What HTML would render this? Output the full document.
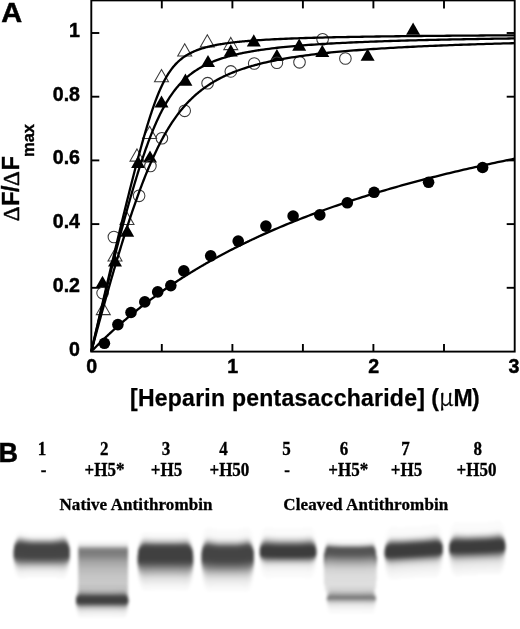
<!DOCTYPE html>
<html><head><meta charset="utf-8"><style>
html,body{margin:0;padding:0;background:#fff;}
body{width:520px;height:629px;overflow:hidden;}
svg{display:block;}
.sans{font-family:"Liberation Sans",Arial,sans-serif;font-weight:bold;}
.serif{font-family:"Liberation Serif","Times New Roman",serif;font-weight:bold;}
</style></head><body>
<svg width="520" height="629" viewBox="0 0 520 629">
<rect width="520" height="629" fill="#fff"/>
<g class="sans" font-size="27.6" stroke="#000" stroke-width="0.5"><text transform="translate(1.3,22.0) scale(1.05,1)">A</text></g>
<g class="sans" font-size="19.6" fill="#000" stroke="#000" stroke-width="0.45">
<text x="80" y="355.5" text-anchor="end">0</text>
<text x="80" y="291.8" text-anchor="end">0.2</text>
<text x="80" y="228.1" text-anchor="end">0.4</text>
<text x="80" y="164.4" text-anchor="end">0.6</text>
<text x="80" y="100.7" text-anchor="end">0.8</text>
<text x="80" y="37.0" text-anchor="end">1</text>
<text x="91.7" y="372.6" text-anchor="middle">0</text>
<text x="232.8" y="372.6" text-anchor="middle">1</text>
<text x="373.8" y="372.6" text-anchor="middle">2</text>
<text x="513.9" y="372.6" text-anchor="middle">3</text>
</g>
<text class="sans" transform="rotate(-90)" font-size="23" stroke="#000" stroke-width="0.4" y="19.2" text-anchor="middle"><tspan x="-213.8" font-family="Liberation Serif" font-weight="normal" stroke-width="0.5">Δ</tspan><tspan x="-198.6">F</tspan><tspan x="-188.9">/</tspan><tspan x="-178.5" font-family="Liberation Serif" font-weight="normal" stroke-width="0.5">Δ</tspan><tspan x="-163.3">F</tspan><tspan x="-157" y="33.6" font-size="16.5" text-anchor="start">max</tspan></text>
<text class="sans" font-size="23" y="405.6" stroke="#000" stroke-width="0.25"><tspan x="130" letter-spacing="0.25">[Heparin pentasaccharide] </tspan><tspan x="431.3">(</tspan><tspan x="438.8" font-family="Noto Serif CJK SC" font-weight="normal" font-size="24" stroke-width="0.3">μ</tspan><tspan x="453.4">M</tspan><tspan x="472">)</tspan></text>
<polygon points="103.3,302.4 110.3,314.6 96.3,314.6" fill="none" stroke="#3a3a3a" stroke-width="1.05"/>
<polygon points="115.0,248.7 122.0,260.9 108.0,260.9" fill="none" stroke="#3a3a3a" stroke-width="1.05"/>
<polygon points="127.0,212.2 134.0,224.4 120.0,224.4" fill="none" stroke="#3a3a3a" stroke-width="1.05"/>
<polygon points="137.0,148.9 144.0,161.1 130.0,161.1" fill="none" stroke="#3a3a3a" stroke-width="1.05"/>
<polygon points="149.6,126.2 156.6,138.4 142.6,138.4" fill="none" stroke="#3a3a3a" stroke-width="1.05"/>
<polygon points="161.5,69.5 168.5,81.7 154.5,81.7" fill="none" stroke="#3a3a3a" stroke-width="1.05"/>
<polygon points="184.7,43.8 191.7,56.0 177.7,56.0" fill="none" stroke="#3a3a3a" stroke-width="1.05"/>
<polygon points="207.3,34.8 214.3,47.0 200.3,47.0" fill="none" stroke="#3a3a3a" stroke-width="1.05"/>
<polygon points="230.8,37.4 237.8,49.6 223.8,49.6" fill="none" stroke="#3a3a3a" stroke-width="1.05"/>
<polygon points="102.5,275.7 109.5,287.9 95.5,287.9" fill="#000"/>
<polygon points="115.0,254.4 122.0,266.6 108.0,266.6" fill="#000"/>
<polygon points="127.2,224.6 134.2,236.8 120.2,236.8" fill="#000"/>
<polygon points="138.1,155.7 145.1,167.9 131.1,167.9" fill="#000"/>
<polygon points="150.0,150.4 157.0,162.6 143.0,162.6" fill="#000"/>
<polygon points="161.5,95.4 168.5,107.6 154.5,107.6" fill="#000"/>
<polygon points="185.4,73.5 192.4,85.7 178.4,85.7" fill="#000"/>
<polygon points="208.0,54.9 215.0,67.1 201.0,67.1" fill="#000"/>
<polygon points="230.8,44.3 237.8,56.5 223.8,56.5" fill="#000"/>
<polygon points="253.8,34.3 260.8,46.5 246.8,46.5" fill="#000"/>
<polygon points="276.9,48.9 283.9,61.1 269.9,61.1" fill="#000"/>
<polygon points="299.2,38.5 306.2,50.7 292.2,50.7" fill="#000"/>
<polygon points="322.3,44.7 329.3,56.9 315.3,56.9" fill="#000"/>
<polygon points="367.6,48.5 374.6,60.7 360.6,60.7" fill="#000"/>
<polygon points="413.1,22.6 420.1,34.8 406.1,34.8" fill="#000"/>
<circle cx="102.6" cy="293.1" r="5.8" fill="none" stroke="#3a3a3a" stroke-width="1.05"/>
<circle cx="113.9" cy="237" r="5.8" fill="none" stroke="#3a3a3a" stroke-width="1.05"/>
<circle cx="139.1" cy="195.8" r="5.8" fill="none" stroke="#3a3a3a" stroke-width="1.05"/>
<circle cx="150.4" cy="166" r="5.8" fill="none" stroke="#3a3a3a" stroke-width="1.05"/>
<circle cx="161.9" cy="138.2" r="5.8" fill="none" stroke="#3a3a3a" stroke-width="1.05"/>
<circle cx="184.7" cy="110.8" r="5.8" fill="none" stroke="#3a3a3a" stroke-width="1.05"/>
<circle cx="207.6" cy="83.2" r="5.8" fill="none" stroke="#3a3a3a" stroke-width="1.05"/>
<circle cx="230.8" cy="71.4" r="5.8" fill="none" stroke="#3a3a3a" stroke-width="1.05"/>
<circle cx="254.2" cy="63.5" r="5.8" fill="none" stroke="#3a3a3a" stroke-width="1.05"/>
<circle cx="276.9" cy="62.7" r="5.8" fill="none" stroke="#3a3a3a" stroke-width="1.05"/>
<circle cx="299.5" cy="62.3" r="5.8" fill="none" stroke="#3a3a3a" stroke-width="1.05"/>
<circle cx="322.6" cy="39.2" r="5.8" fill="none" stroke="#3a3a3a" stroke-width="1.05"/>
<circle cx="345.4" cy="58.5" r="5.8" fill="none" stroke="#3a3a3a" stroke-width="1.05"/>
<circle cx="104.4" cy="343.3" r="5.8" fill="#000"/>
<circle cx="117.9" cy="324.6" r="5.8" fill="#000"/>
<circle cx="131" cy="312.5" r="5.8" fill="#000"/>
<circle cx="144.8" cy="301.9" r="5.8" fill="#000"/>
<circle cx="157.7" cy="291.9" r="5.8" fill="#000"/>
<circle cx="170.8" cy="285.6" r="5.8" fill="#000"/>
<circle cx="183.8" cy="270.8" r="5.8" fill="#000"/>
<circle cx="210.7" cy="255.8" r="5.8" fill="#000"/>
<circle cx="238.2" cy="241.1" r="5.8" fill="#000"/>
<circle cx="265.9" cy="226.1" r="5.8" fill="#000"/>
<circle cx="293.1" cy="216" r="5.8" fill="#000"/>
<circle cx="319.8" cy="214.9" r="5.8" fill="#000"/>
<circle cx="347.3" cy="202.8" r="5.8" fill="#000"/>
<circle cx="374.1" cy="192.3" r="5.8" fill="#000"/>
<circle cx="428.6" cy="182.3" r="5.8" fill="#000"/>
<circle cx="482.6" cy="167.5" r="5.8" fill="#000"/>
<path d="M91.30,351.50 L92.01,348.45 L92.71,345.41 L93.42,342.37 L94.12,339.33 L94.83,336.29 L95.53,333.25 L96.24,330.22 L96.94,327.18 L97.65,324.15 L98.35,321.12 L99.06,318.10 L99.76,315.07 L100.47,312.05 L101.17,309.03 L101.88,306.02 L102.59,303.00 L103.29,299.99 L104.00,296.98 L104.70,293.97 L105.41,290.97 L106.11,287.97 L106.82,284.97 L107.52,281.98 L108.23,278.99 L108.93,276.00 L109.64,273.02 L110.34,270.04 L111.05,267.06 L111.76,264.09 L112.46,261.12 L113.17,258.16 L113.87,255.20 L114.58,252.25 L115.28,249.30 L115.99,246.35 L116.69,243.41 L117.40,240.48 L118.10,237.55 L118.81,234.62 L119.51,231.71 L120.22,228.79 L120.92,225.89 L121.63,222.99 L122.34,220.10 L123.04,217.21 L123.75,214.33 L124.45,211.46 L125.16,208.60 L125.86,205.75 L126.57,202.90 L127.27,200.06 L127.98,197.24 L128.68,194.42 L129.39,191.61 L130.09,188.82 L130.80,186.03 L131.50,183.26 L132.21,180.50 L132.92,177.75 L133.62,175.01 L134.33,172.29 L135.03,169.58 L135.74,166.89 L136.44,164.21 L137.15,161.55 L137.85,158.90 L138.56,156.27 L139.26,153.67 L139.97,151.08 L140.67,148.51 L141.38,145.96 L142.09,143.43 L142.79,140.93 L143.50,138.45 L144.20,135.99 L144.91,133.57 L145.61,131.16 L146.32,128.79 L147.02,126.44 L147.73,124.13 L148.43,121.84 L149.14,119.59 L149.84,117.37 L150.55,115.19 L151.25,113.04 L151.96,110.92 L152.67,108.85 L153.37,106.81 L154.08,104.82 L154.78,102.86 L155.49,100.95 L156.19,99.07 L156.90,97.24 L157.60,95.46 L158.31,93.71 L159.01,92.01 L159.72,90.36 L160.42,88.75 L161.13,87.19 L161.83,85.67 L162.54,84.19 L163.25,82.77 L163.95,81.38 L164.66,80.04 L165.36,78.74 L166.07,77.48 L166.77,76.27 L167.48,75.10 L168.18,73.97 L168.89,72.87 L169.59,71.82 L170.30,70.80 L171.00,69.82 L171.71,68.87 L172.42,67.96 L173.12,67.09 L173.83,66.24 L174.53,65.42 L175.24,64.64 L175.94,63.88 L176.65,63.15 L177.35,62.45 L178.06,61.77 L178.76,61.12 L179.47,60.49 L180.17,59.89 L180.88,59.30 L181.58,58.74 L182.29,58.19 L183.00,57.67 L183.70,57.16 L184.41,56.67 L185.11,56.20 L185.82,55.75 L186.52,55.30 L187.23,54.88 L187.93,54.47 L188.64,54.07 L189.34,53.68 L190.05,53.31 L190.75,52.95 L191.46,52.60 L192.17,52.26 L192.87,51.94 L193.58,51.62 L194.28,51.31 L194.99,51.01 L195.69,50.72 L196.40,50.44 L197.10,50.17 L197.81,49.90 L198.51,49.64 L199.22,49.39 L199.92,49.15 L200.63,48.91 L201.33,48.68 L202.04,48.46 L202.75,48.24 L203.45,48.03 L204.16,47.82 L204.86,47.62 L205.57,47.43 L206.27,47.24 L206.98,47.05 L207.68,46.87 L208.39,46.69 L209.09,46.52 L209.80,46.35 L210.50,46.19 L211.21,46.03 L211.91,45.87 L212.62,45.72 L213.33,45.57 L214.03,45.42 L214.74,45.28 L215.44,45.14 L216.15,45.00 L216.85,44.87 L217.56,44.74 L218.26,44.61 L218.97,44.49 L219.67,44.36 L220.38,44.25 L221.08,44.13 L221.79,44.01 L222.50,43.90 L223.20,43.79 L223.91,43.68 L224.61,43.58 L225.32,43.47 L226.02,43.37 L226.73,43.27 L227.43,43.17 L228.14,43.08 L228.84,42.98 L229.55,42.89 L230.25,42.80 L230.96,42.71 L231.66,42.62 L232.37,42.54 L233.08,42.45 L233.78,42.37 L234.49,42.29 L235.19,42.21 L235.90,42.13 L236.60,42.05 L237.31,41.98 L238.01,41.90 L238.72,41.83 L239.42,41.76 L240.13,41.69 L240.83,41.62 L241.54,41.55 L242.24,41.48 L242.95,41.42 L243.66,41.35 L244.36,41.29 L245.07,41.22 L245.77,41.16 L246.48,41.10 L247.18,41.04 L247.89,40.98 L248.59,40.92 L249.30,40.86 L250.00,40.81 L250.71,40.75 L251.41,40.70 L252.12,40.64 L252.83,40.59 L253.53,40.54 L254.24,40.48 L254.94,40.43 L255.65,40.38 L256.35,40.33 L257.06,40.28 L257.76,40.23 L258.47,40.19 L259.17,40.14 L259.88,40.09 L260.58,40.05 L263.41,39.87 L266.23,39.70 L269.05,39.54 L271.87,39.39 L274.69,39.25 L277.51,39.11 L280.33,38.98 L283.16,38.85 L285.98,38.73 L288.80,38.61 L291.62,38.50 L294.44,38.40 L297.26,38.30 L300.08,38.20 L302.90,38.11 L305.73,38.02 L308.55,37.93 L311.37,37.85 L314.19,37.77 L317.01,37.69 L319.83,37.61 L322.65,37.54 L325.48,37.47 L328.30,37.40 L331.12,37.34 L333.94,37.27 L336.76,37.21 L339.58,37.15 L342.40,37.10 L345.23,37.04 L348.05,36.99 L350.87,36.93 L353.69,36.88 L356.51,36.83 L359.33,36.78 L362.15,36.74 L364.98,36.69 L367.80,36.65 L370.62,36.60 L373.44,36.56 L376.26,36.52 L379.08,36.48 L381.90,36.44 L384.73,36.40 L387.55,36.37 L390.37,36.33 L393.19,36.29 L396.01,36.26 L398.83,36.23 L401.65,36.19 L404.48,36.16 L407.30,36.13 L410.12,36.10 L412.94,36.07 L415.76,36.04 L418.58,36.01 L421.40,35.98 L424.23,35.96 L427.05,35.93 L429.87,35.90 L432.69,35.88 L435.51,35.85 L438.33,35.83 L441.15,35.80 L443.97,35.78 L446.80,35.76 L449.62,35.73 L452.44,35.71 L455.26,35.69 L458.08,35.67 L460.90,35.65 L463.72,35.63 L466.55,35.60 L469.37,35.58 L472.19,35.57 L475.01,35.55 L477.83,35.53 L480.65,35.51 L483.47,35.49 L486.30,35.47 L489.12,35.45 L491.94,35.44 L494.76,35.42 L497.58,35.40 L500.40,35.39 L503.22,35.37 L506.05,35.35 L508.87,35.34 L511.69,35.32 L514.51,35.31" fill="none" stroke="#000" stroke-width="2.3" stroke-linejoin="round"/>
<path d="M91.30,351.50 L92.01,348.54 L92.71,345.59 L93.42,342.63 L94.12,339.69 L94.83,336.75 L95.53,333.81 L96.24,330.88 L96.94,327.95 L97.65,325.02 L98.35,322.11 L99.06,319.19 L99.76,316.29 L100.47,313.38 L101.17,310.49 L101.88,307.60 L102.59,304.71 L103.29,301.83 L104.00,298.96 L104.70,296.10 L105.41,293.24 L106.11,290.38 L106.82,287.54 L107.52,284.70 L108.23,281.87 L108.93,279.04 L109.64,276.23 L110.34,273.42 L111.05,270.62 L111.76,267.83 L112.46,265.04 L113.17,262.27 L113.87,259.50 L114.58,256.75 L115.28,254.00 L115.99,251.26 L116.69,248.53 L117.40,245.82 L118.10,243.11 L118.81,240.41 L119.51,237.73 L120.22,235.06 L120.92,232.39 L121.63,229.74 L122.34,227.11 L123.04,224.48 L123.75,221.87 L124.45,219.27 L125.16,216.69 L125.86,214.12 L126.57,211.56 L127.27,209.02 L127.98,206.50 L128.68,203.98 L129.39,201.49 L130.09,199.01 L130.80,196.55 L131.50,194.11 L132.21,191.68 L132.92,189.27 L133.62,186.88 L134.33,184.51 L135.03,182.16 L135.74,179.83 L136.44,177.52 L137.15,175.22 L137.85,172.95 L138.56,170.71 L139.26,168.48 L139.97,166.27 L140.67,164.09 L141.38,161.93 L142.09,159.80 L142.79,157.69 L143.50,155.60 L144.20,153.54 L144.91,151.50 L145.61,149.49 L146.32,147.51 L147.02,145.55 L147.73,143.62 L148.43,141.71 L149.14,139.83 L149.84,137.98 L150.55,136.15 L151.25,134.36 L151.96,132.59 L152.67,130.85 L153.37,129.14 L154.08,127.45 L154.78,125.80 L155.49,124.17 L156.19,122.57 L156.90,121.00 L157.60,119.46 L158.31,117.94 L159.01,116.46 L159.72,115.00 L160.42,113.57 L161.13,112.17 L161.83,110.80 L162.54,109.45 L163.25,108.13 L163.95,106.84 L164.66,105.58 L165.36,104.34 L166.07,103.12 L166.77,101.94 L167.48,100.78 L168.18,99.64 L168.89,98.53 L169.59,97.44 L170.30,96.38 L171.00,95.34 L171.71,94.32 L172.42,93.33 L173.12,92.36 L173.83,91.41 L174.53,90.48 L175.24,89.58 L175.94,88.69 L176.65,87.82 L177.35,86.98 L178.06,86.15 L178.76,85.34 L179.47,84.55 L180.17,83.78 L180.88,83.03 L181.58,82.29 L182.29,81.57 L183.00,80.87 L183.70,80.18 L184.41,79.51 L185.11,78.85 L185.82,78.21 L186.52,77.58 L187.23,76.97 L187.93,76.37 L188.64,75.78 L189.34,75.21 L190.05,74.65 L190.75,74.10 L191.46,73.56 L192.17,73.04 L192.87,72.53 L193.58,72.02 L194.28,71.53 L194.99,71.05 L195.69,70.58 L196.40,70.12 L197.10,69.67 L197.81,69.23 L198.51,68.80 L199.22,68.37 L199.92,67.96 L200.63,67.55 L201.33,67.15 L202.04,66.77 L202.75,66.38 L203.45,66.01 L204.16,65.64 L204.86,65.28 L205.57,64.93 L206.27,64.59 L206.98,64.25 L207.68,63.92 L208.39,63.59 L209.09,63.27 L209.80,62.96 L210.50,62.65 L211.21,62.35 L211.91,62.05 L212.62,61.76 L213.33,61.47 L214.03,61.19 L214.74,60.92 L215.44,60.65 L216.15,60.38 L216.85,60.12 L217.56,59.87 L218.26,59.62 L218.97,59.37 L219.67,59.13 L220.38,58.89 L221.08,58.65 L221.79,58.42 L222.50,58.20 L223.20,57.97 L223.91,57.75 L224.61,57.54 L225.32,57.33 L226.02,57.12 L226.73,56.91 L227.43,56.71 L228.14,56.51 L228.84,56.32 L229.55,56.12 L230.25,55.93 L230.96,55.75 L231.66,55.56 L232.37,55.38 L233.08,55.21 L233.78,55.03 L234.49,54.86 L235.19,54.69 L235.90,54.52 L236.60,54.36 L237.31,54.19 L238.01,54.03 L238.72,53.88 L239.42,53.72 L240.13,53.57 L240.83,53.42 L241.54,53.27 L242.24,53.12 L242.95,52.98 L243.66,52.83 L244.36,52.69 L245.07,52.55 L245.77,52.42 L246.48,52.28 L247.18,52.15 L247.89,52.02 L248.59,51.89 L249.30,51.76 L250.00,51.63 L250.71,51.51 L251.41,51.39 L252.12,51.27 L252.83,51.15 L253.53,51.03 L254.24,50.91 L254.94,50.80 L255.65,50.68 L256.35,50.57 L257.06,50.46 L257.76,50.35 L258.47,50.24 L259.17,50.13 L259.88,50.03 L260.58,49.92 L263.41,49.52 L266.23,49.13 L269.05,48.77 L271.87,48.41 L274.69,48.08 L277.51,47.76 L280.33,47.45 L283.16,47.15 L285.98,46.87 L288.80,46.60 L291.62,46.34 L294.44,46.08 L297.26,45.84 L300.08,45.61 L302.90,45.38 L305.73,45.17 L308.55,44.96 L311.37,44.76 L314.19,44.56 L317.01,44.37 L319.83,44.19 L322.65,44.02 L325.48,43.85 L328.30,43.68 L331.12,43.52 L333.94,43.36 L336.76,43.21 L339.58,43.07 L342.40,42.93 L345.23,42.79 L348.05,42.65 L350.87,42.52 L353.69,42.40 L356.51,42.27 L359.33,42.16 L362.15,42.04 L364.98,41.93 L367.80,41.81 L370.62,41.71 L373.44,41.60 L376.26,41.50 L379.08,41.40 L381.90,41.30 L384.73,41.21 L387.55,41.11 L390.37,41.02 L393.19,40.94 L396.01,40.85 L398.83,40.76 L401.65,40.68 L404.48,40.60 L407.30,40.52 L410.12,40.45 L412.94,40.37 L415.76,40.30 L418.58,40.22 L421.40,40.15 L424.23,40.08 L427.05,40.02 L429.87,39.95 L432.69,39.88 L435.51,39.82 L438.33,39.76 L441.15,39.70 L443.97,39.63 L446.80,39.58 L449.62,39.52 L452.44,39.46 L455.26,39.40 L458.08,39.35 L460.90,39.30 L463.72,39.24 L466.55,39.19 L469.37,39.14 L472.19,39.09 L475.01,39.04 L477.83,38.99 L480.65,38.94 L483.47,38.90 L486.30,38.85 L489.12,38.81 L491.94,38.76 L494.76,38.72 L497.58,38.68 L500.40,38.63 L503.22,38.59 L506.05,38.55 L508.87,38.51 L511.69,38.47 L514.51,38.43" fill="none" stroke="#000" stroke-width="2.3" stroke-linejoin="round"/>
<path d="M91.30,351.50 L92.01,348.86 L92.71,346.22 L93.42,343.58 L94.12,340.96 L94.83,338.34 L95.53,335.72 L96.24,333.11 L96.94,330.51 L97.65,327.91 L98.35,325.33 L99.06,322.74 L99.76,320.17 L100.47,317.60 L101.17,315.04 L101.88,312.48 L102.59,309.93 L103.29,307.39 L104.00,304.86 L104.70,302.34 L105.41,299.82 L106.11,297.31 L106.82,294.81 L107.52,292.32 L108.23,289.83 L108.93,287.36 L109.64,284.89 L110.34,282.43 L111.05,279.99 L111.76,277.55 L112.46,275.12 L113.17,272.70 L113.87,270.29 L114.58,267.89 L115.28,265.50 L115.99,263.12 L116.69,260.75 L117.40,258.39 L118.10,256.05 L118.81,253.71 L119.51,251.39 L120.22,249.07 L120.92,246.77 L121.63,244.48 L122.34,242.21 L123.04,239.94 L123.75,237.69 L124.45,235.45 L125.16,233.22 L125.86,231.01 L126.57,228.81 L127.27,226.62 L127.98,224.45 L128.68,222.29 L129.39,220.15 L130.09,218.02 L130.80,215.90 L131.50,213.80 L132.21,211.72 L132.92,209.65 L133.62,207.59 L134.33,205.55 L135.03,203.53 L135.74,201.52 L136.44,199.53 L137.15,197.55 L137.85,195.59 L138.56,193.65 L139.26,191.73 L139.97,189.82 L140.67,187.93 L141.38,186.06 L142.09,184.20 L142.79,182.36 L143.50,180.54 L144.20,178.74 L144.91,176.95 L145.61,175.19 L146.32,173.44 L147.02,171.71 L147.73,170.00 L148.43,168.31 L149.14,166.63 L149.84,164.98 L150.55,163.34 L151.25,161.73 L151.96,160.13 L152.67,158.55 L153.37,156.99 L154.08,155.45 L154.78,153.93 L155.49,152.42 L156.19,150.94 L156.90,149.47 L157.60,148.03 L158.31,146.60 L159.01,145.19 L159.72,143.80 L160.42,142.43 L161.13,141.08 L161.83,139.75 L162.54,138.44 L163.25,137.14 L163.95,135.86 L164.66,134.60 L165.36,133.36 L166.07,132.14 L166.77,130.94 L167.48,129.75 L168.18,128.58 L168.89,127.43 L169.59,126.29 L170.30,125.18 L171.00,124.08 L171.71,122.99 L172.42,121.93 L173.12,120.88 L173.83,119.84 L174.53,118.83 L175.24,117.83 L175.94,116.84 L176.65,115.87 L177.35,114.92 L178.06,113.98 L178.76,113.05 L179.47,112.14 L180.17,111.25 L180.88,110.37 L181.58,109.50 L182.29,108.65 L183.00,107.81 L183.70,106.98 L184.41,106.17 L185.11,105.37 L185.82,104.59 L186.52,103.82 L187.23,103.06 L187.93,102.31 L188.64,101.57 L189.34,100.85 L190.05,100.14 L190.75,99.44 L191.46,98.75 L192.17,98.07 L192.87,97.40 L193.58,96.74 L194.28,96.10 L194.99,95.46 L195.69,94.84 L196.40,94.22 L197.10,93.62 L197.81,93.02 L198.51,92.44 L199.22,91.86 L199.92,91.29 L200.63,90.73 L201.33,90.18 L202.04,89.64 L202.75,89.11 L203.45,88.58 L204.16,88.07 L204.86,87.56 L205.57,87.06 L206.27,86.57 L206.98,86.08 L207.68,85.61 L208.39,85.14 L209.09,84.67 L209.80,84.22 L210.50,83.77 L211.21,83.33 L211.91,82.89 L212.62,82.46 L213.33,82.04 L214.03,81.62 L214.74,81.21 L215.44,80.81 L216.15,80.41 L216.85,80.02 L217.56,79.63 L218.26,79.25 L218.97,78.88 L219.67,78.51 L220.38,78.14 L221.08,77.78 L221.79,77.43 L222.50,77.08 L223.20,76.73 L223.91,76.39 L224.61,76.06 L225.32,75.73 L226.02,75.40 L226.73,75.08 L227.43,74.77 L228.14,74.45 L228.84,74.15 L229.55,73.84 L230.25,73.54 L230.96,73.25 L231.66,72.95 L232.37,72.67 L233.08,72.38 L233.78,72.10 L234.49,71.83 L235.19,71.55 L235.90,71.28 L236.60,71.02 L237.31,70.75 L238.01,70.50 L238.72,70.24 L239.42,69.99 L240.13,69.74 L240.83,69.49 L241.54,69.25 L242.24,69.01 L242.95,68.77 L243.66,68.54 L244.36,68.31 L245.07,68.08 L245.77,67.85 L246.48,67.63 L247.18,67.41 L247.89,67.19 L248.59,66.98 L249.30,66.76 L250.00,66.55 L250.71,66.35 L251.41,66.14 L252.12,65.94 L252.83,65.74 L253.53,65.54 L254.24,65.34 L254.94,65.15 L255.65,64.96 L256.35,64.77 L257.06,64.58 L257.76,64.40 L258.47,64.22 L259.17,64.04 L259.88,63.86 L260.58,63.68 L263.41,62.99 L266.23,62.34 L269.05,61.71 L271.87,61.10 L274.69,60.52 L277.51,59.96 L280.33,59.43 L283.16,58.91 L285.98,58.42 L288.80,57.94 L291.62,57.48 L294.44,57.04 L297.26,56.62 L300.08,56.20 L302.90,55.81 L305.73,55.42 L308.55,55.05 L311.37,54.69 L314.19,54.34 L317.01,54.01 L319.83,53.68 L322.65,53.37 L325.48,53.06 L328.30,52.76 L331.12,52.48 L333.94,52.20 L336.76,51.92 L339.58,51.66 L342.40,51.41 L345.23,51.16 L348.05,50.91 L350.87,50.68 L353.69,50.45 L356.51,50.23 L359.33,50.01 L362.15,49.80 L364.98,49.59 L367.80,49.39 L370.62,49.19 L373.44,49.00 L376.26,48.81 L379.08,48.63 L381.90,48.45 L384.73,48.28 L387.55,48.11 L390.37,47.94 L393.19,47.78 L396.01,47.62 L398.83,47.47 L401.65,47.32 L404.48,47.17 L407.30,47.02 L410.12,46.88 L412.94,46.74 L415.76,46.61 L418.58,46.47 L421.40,46.34 L424.23,46.22 L427.05,46.09 L429.87,45.97 L432.69,45.85 L435.51,45.73 L438.33,45.61 L441.15,45.50 L443.97,45.39 L446.80,45.28 L449.62,45.17 L452.44,45.07 L455.26,44.96 L458.08,44.86 L460.90,44.76 L463.72,44.67 L466.55,44.57 L469.37,44.48 L472.19,44.38 L475.01,44.29 L477.83,44.20 L480.65,44.11 L483.47,44.03 L486.30,43.94 L489.12,43.86 L491.94,43.78 L494.76,43.69 L497.58,43.61 L500.40,43.54 L503.22,43.46 L506.05,43.38 L508.87,43.31 L511.69,43.23 L514.51,43.16" fill="none" stroke="#000" stroke-width="2.3" stroke-linejoin="round"/>
<path d="M91.30,351.50 L92.01,350.78 L92.71,350.05 L93.42,349.34 L94.12,348.62 L94.83,347.91 L95.53,347.20 L96.24,346.49 L96.94,345.79 L97.65,345.09 L98.35,344.39 L99.06,343.70 L99.76,343.01 L100.47,342.32 L101.17,341.63 L101.88,340.95 L102.59,340.27 L103.29,339.59 L104.00,338.91 L104.70,338.24 L105.41,337.57 L106.11,336.90 L106.82,336.24 L107.52,335.58 L108.23,334.92 L108.93,334.26 L109.64,333.61 L110.34,332.96 L111.05,332.31 L111.76,331.66 L112.46,331.02 L113.17,330.38 L113.87,329.74 L114.58,329.10 L115.28,328.47 L115.99,327.84 L116.69,327.21 L117.40,326.58 L118.10,325.96 L118.81,325.34 L119.51,324.72 L120.22,324.10 L120.92,323.49 L121.63,322.88 L122.34,322.27 L123.04,321.66 L123.75,321.06 L124.45,320.45 L125.16,319.85 L125.86,319.26 L126.57,318.66 L127.27,318.07 L127.98,317.48 L128.68,316.89 L129.39,316.30 L130.09,315.72 L130.80,315.14 L131.50,314.56 L132.21,313.98 L132.92,313.40 L133.62,312.83 L134.33,312.26 L135.03,311.69 L135.74,311.12 L136.44,310.56 L137.15,309.99 L137.85,309.43 L138.56,308.87 L139.26,308.32 L139.97,307.76 L140.67,307.21 L141.38,306.66 L142.09,306.11 L142.79,305.56 L143.50,305.02 L144.20,304.47 L144.91,303.93 L145.61,303.39 L146.32,302.86 L147.02,302.32 L147.73,301.79 L148.43,301.26 L149.14,300.73 L149.84,300.20 L150.55,299.68 L151.25,299.15 L151.96,298.63 L152.67,298.11 L153.37,297.59 L154.08,297.08 L154.78,296.56 L155.49,296.05 L156.19,295.54 L156.90,295.03 L157.60,294.52 L158.31,294.02 L159.01,293.51 L159.72,293.01 L160.42,292.51 L161.13,292.01 L161.83,291.52 L162.54,291.02 L163.25,290.53 L163.95,290.04 L164.66,289.55 L165.36,289.06 L166.07,288.57 L166.77,288.09 L167.48,287.61 L168.18,287.12 L168.89,286.64 L169.59,286.17 L170.30,285.69 L171.00,285.21 L171.71,284.74 L172.42,284.27 L173.12,283.80 L173.83,283.33 L174.53,282.86 L175.24,282.40 L175.94,281.93 L176.65,281.47 L177.35,281.01 L178.06,280.55 L178.76,280.09 L179.47,279.64 L180.17,279.18 L180.88,278.73 L181.58,278.28 L182.29,277.83 L183.00,277.38 L183.70,276.93 L184.41,276.49 L185.11,276.04 L185.82,275.60 L186.52,275.16 L187.23,274.72 L187.93,274.28 L188.64,273.84 L189.34,273.41 L190.05,272.97 L190.75,272.54 L191.46,272.11 L192.17,271.68 L192.87,271.25 L193.58,270.82 L194.28,270.40 L194.99,269.97 L195.69,269.55 L196.40,269.13 L197.10,268.71 L197.81,268.29 L198.51,267.87 L199.22,267.45 L199.92,267.04 L200.63,266.62 L201.33,266.21 L202.04,265.80 L202.75,265.39 L203.45,264.98 L204.16,264.57 L204.86,264.17 L205.57,263.76 L206.27,263.36 L206.98,262.96 L207.68,262.56 L208.39,262.16 L209.09,261.76 L209.80,261.36 L210.50,260.96 L211.21,260.57 L211.91,260.18 L212.62,259.78 L213.33,259.39 L214.03,259.00 L214.74,258.61 L215.44,258.23 L216.15,257.84 L216.85,257.45 L217.56,257.07 L218.26,256.69 L218.97,256.30 L219.67,255.92 L220.38,255.54 L221.08,255.17 L221.79,254.79 L222.50,254.41 L223.20,254.04 L223.91,253.66 L224.61,253.29 L225.32,252.92 L226.02,252.55 L226.73,252.18 L227.43,251.81 L228.14,251.45 L228.84,251.08 L229.55,250.71 L230.25,250.35 L230.96,249.99 L231.66,249.63 L232.37,249.27 L233.08,248.91 L233.78,248.55 L234.49,248.19 L235.19,247.83 L235.90,247.48 L236.60,247.12 L237.31,246.77 L238.01,246.42 L238.72,246.07 L239.42,245.72 L240.13,245.37 L240.83,245.02 L241.54,244.67 L242.24,244.33 L242.95,243.98 L243.66,243.64 L244.36,243.29 L245.07,242.95 L245.77,242.61 L246.48,242.27 L247.18,241.93 L247.89,241.59 L248.59,241.26 L249.30,240.92 L250.00,240.58 L250.71,240.25 L251.41,239.92 L252.12,239.58 L252.83,239.25 L253.53,238.92 L254.24,238.59 L254.94,238.26 L255.65,237.94 L256.35,237.61 L257.06,237.28 L257.76,236.96 L258.47,236.63 L259.17,236.31 L259.88,235.99 L260.58,235.67 L263.41,234.39 L266.23,233.13 L269.05,231.88 L271.87,230.64 L274.69,229.42 L277.51,228.21 L280.33,227.02 L283.16,225.83 L285.98,224.66 L288.80,223.50 L291.62,222.36 L294.44,221.23 L297.26,220.10 L300.08,218.99 L302.90,217.89 L305.73,216.81 L308.55,215.73 L311.37,214.66 L314.19,213.61 L317.01,212.56 L319.83,211.53 L322.65,210.51 L325.48,209.49 L328.30,208.49 L331.12,207.50 L333.94,206.51 L336.76,205.54 L339.58,204.57 L342.40,203.62 L345.23,202.67 L348.05,201.73 L350.87,200.80 L353.69,199.88 L356.51,198.97 L359.33,198.07 L362.15,197.18 L364.98,196.29 L367.80,195.41 L370.62,194.54 L373.44,193.68 L376.26,192.83 L379.08,191.98 L381.90,191.14 L384.73,190.31 L387.55,189.48 L390.37,188.67 L393.19,187.86 L396.01,187.06 L398.83,186.26 L401.65,185.47 L404.48,184.69 L407.30,183.92 L410.12,183.15 L412.94,182.39 L415.76,181.63 L418.58,180.88 L421.40,180.14 L424.23,179.41 L427.05,178.68 L429.87,177.95 L432.69,177.24 L435.51,176.52 L438.33,175.82 L441.15,175.12 L443.97,174.42 L446.80,173.74 L449.62,173.05 L452.44,172.38 L455.26,171.70 L458.08,171.04 L460.90,170.38 L463.72,169.72 L466.55,169.07 L469.37,168.42 L472.19,167.78 L475.01,167.15 L477.83,166.52 L480.65,165.89 L483.47,165.27 L486.30,164.65 L489.12,164.04 L491.94,163.44 L494.76,162.83 L497.58,162.24 L500.40,161.64 L503.22,161.06 L506.05,160.47 L508.87,159.89 L511.69,159.32 L514.51,158.75" fill="none" stroke="#000" stroke-width="2.3" stroke-linejoin="round"/>
<g stroke="#000" stroke-width="1.9" fill="none">
<rect x="91.3" y="0.4" width="423.4" height="351.2"/>
<line x1="161.8" y1="351.6" x2="161.8" y2="344.0"/>
<line x1="161.8" y1="0.4" x2="161.8" y2="8.4"/>
<line x1="232.4" y1="351.6" x2="232.4" y2="344.0"/>
<line x1="232.4" y1="0.4" x2="232.4" y2="8.4"/>
<line x1="302.9" y1="351.6" x2="302.9" y2="344.0"/>
<line x1="302.9" y1="0.4" x2="302.9" y2="8.4"/>
<line x1="373.4" y1="351.6" x2="373.4" y2="344.0"/>
<line x1="373.4" y1="0.4" x2="373.4" y2="8.4"/>
<line x1="444.0" y1="351.6" x2="444.0" y2="344.0"/>
<line x1="444.0" y1="0.4" x2="444.0" y2="8.4"/>
<line x1="91.3" y1="287.8" x2="99.3" y2="287.8"/>
<line x1="514.7" y1="287.8" x2="506.70000000000005" y2="287.8"/>
<line x1="91.3" y1="224.1" x2="99.3" y2="224.1"/>
<line x1="514.7" y1="224.1" x2="506.70000000000005" y2="224.1"/>
<line x1="91.3" y1="160.4" x2="99.3" y2="160.4"/>
<line x1="514.7" y1="160.4" x2="506.70000000000005" y2="160.4"/>
<line x1="91.3" y1="96.7" x2="99.3" y2="96.7"/>
<line x1="514.7" y1="96.7" x2="506.70000000000005" y2="96.7"/>
<line x1="91.3" y1="33.0" x2="99.3" y2="33.0"/>
<line x1="514.7" y1="33.0" x2="506.70000000000005" y2="33.0"/>
</g>
<!-- Panel B -->
<g class="sans" font-size="27" stroke="#000" stroke-width="0.5"><text x="-1.6" y="461.7">B</text></g>
<g class="serif" font-size="17" text-anchor="middle" stroke="#000" stroke-width="0.3">
<g transform="translate(0,455) scale(1,1.14)"><text x="41.9" y="0">1</text><text x="104.2" y="0">2</text><text x="165.9" y="0">3</text><text x="223.5" y="0">4</text><text x="286.4" y="0">5</text><text x="343.9" y="0">6</text><text x="405.4" y="0">7</text><text x="477.7" y="0">8</text></g>
<g transform="translate(0,476) scale(1,1.05)"><text x="43.6" y="0">-</text><text x="104.5" y="0">+H5*</text><text x="166.5" y="0">+H5</text><text x="229.4" y="0">+H50</text><text x="287" y="0">-</text><text x="348.2" y="0">+H5*</text><text x="406.5" y="0">+H5</text><text x="476.5" y="0">+H50</text></g>
</g>
<g class="serif" font-size="17" stroke="#000" stroke-width="0.3">
<text x="59.5" y="510.2" textLength="153" lengthAdjust="spacing">Native Antithrombin</text>
<text x="283.3" y="510.2" textLength="165" lengthAdjust="spacing">Cleaved Antithrombin</text>
</g>
<!-- gel -->
<defs><filter id="hb" x="-10%" y="-10%" width="120%" height="120%"><feGaussianBlur stdDeviation="1.6 0.8"/></filter><linearGradient id="g0" x1="0" y1="0" x2="0" y2="1"><stop offset="0.0000" stop-color="#000" stop-opacity="0.012"/><stop offset="0.0604" stop-color="#000" stop-opacity="0.020"/><stop offset="0.0940" stop-color="#000" stop-opacity="0.067"/><stop offset="0.1409" stop-color="#000" stop-opacity="0.200"/><stop offset="0.1879" stop-color="#000" stop-opacity="0.400"/><stop offset="0.2371" stop-color="#000" stop-opacity="0.600"/><stop offset="0.2841" stop-color="#000" stop-opacity="0.718"/><stop offset="0.3691" stop-color="#000" stop-opacity="0.737"/><stop offset="0.5213" stop-color="#000" stop-opacity="0.725"/><stop offset="0.5705" stop-color="#000" stop-opacity="0.667"/><stop offset="0.6331" stop-color="#000" stop-opacity="0.533"/><stop offset="0.6980" stop-color="#000" stop-opacity="0.333"/><stop offset="0.7606" stop-color="#000" stop-opacity="0.184"/><stop offset="0.8255" stop-color="#000" stop-opacity="0.090"/><stop offset="0.8881" stop-color="#000" stop-opacity="0.047"/><stop offset="1.0000" stop-color="#000" stop-opacity="0.012"/></linearGradient><linearGradient id="g1" x1="0" y1="0" x2="0" y2="1"><stop offset="0.0000" stop-color="#000" stop-opacity="0.012"/><stop offset="0.0407" stop-color="#000" stop-opacity="0.027"/><stop offset="0.0864" stop-color="#000" stop-opacity="0.102"/><stop offset="0.1203" stop-color="#000" stop-opacity="0.267"/><stop offset="0.1559" stop-color="#000" stop-opacity="0.459"/><stop offset="0.2017" stop-color="#000" stop-opacity="0.522"/><stop offset="0.2763" stop-color="#000" stop-opacity="0.475"/><stop offset="0.3729" stop-color="#000" stop-opacity="0.353"/><stop offset="0.4881" stop-color="#000" stop-opacity="0.275"/><stop offset="0.6017" stop-color="#000" stop-opacity="0.231"/><stop offset="0.7169" stop-color="#000" stop-opacity="0.212"/><stop offset="0.8305" stop-color="#000" stop-opacity="0.216"/><stop offset="0.8983" stop-color="#000" stop-opacity="0.184"/><stop offset="0.9492" stop-color="#000" stop-opacity="0.067"/><stop offset="1.0000" stop-color="#000" stop-opacity="0.012"/></linearGradient><linearGradient id="g2" x1="0" y1="0" x2="0" y2="1"><stop offset="0.0000" stop-color="#000" stop-opacity="0.012"/><stop offset="0.1471" stop-color="#000" stop-opacity="0.039"/><stop offset="0.2500" stop-color="#000" stop-opacity="0.216"/><stop offset="0.3235" stop-color="#000" stop-opacity="0.529"/><stop offset="0.3824" stop-color="#000" stop-opacity="0.702"/><stop offset="0.4412" stop-color="#000" stop-opacity="0.749"/><stop offset="0.5147" stop-color="#000" stop-opacity="0.749"/><stop offset="0.5735" stop-color="#000" stop-opacity="0.667"/><stop offset="0.6324" stop-color="#000" stop-opacity="0.467"/><stop offset="0.6912" stop-color="#000" stop-opacity="0.267"/><stop offset="0.7647" stop-color="#000" stop-opacity="0.133"/><stop offset="0.8529" stop-color="#000" stop-opacity="0.059"/><stop offset="1.0000" stop-color="#000" stop-opacity="0.012"/></linearGradient><linearGradient id="g3" x1="0" y1="0" x2="0" y2="1"><stop offset="0.0000" stop-color="#000" stop-opacity="0.012"/><stop offset="0.0720" stop-color="#000" stop-opacity="0.027"/><stop offset="0.0978" stop-color="#000" stop-opacity="0.067"/><stop offset="0.1389" stop-color="#000" stop-opacity="0.165"/><stop offset="0.1801" stop-color="#000" stop-opacity="0.333"/><stop offset="0.2213" stop-color="#000" stop-opacity="0.600"/><stop offset="0.2624" stop-color="#000" stop-opacity="0.718"/><stop offset="0.3036" stop-color="#000" stop-opacity="0.749"/><stop offset="0.4545" stop-color="#000" stop-opacity="0.749"/><stop offset="0.5094" stop-color="#000" stop-opacity="0.710"/><stop offset="0.5643" stop-color="#000" stop-opacity="0.600"/><stop offset="0.6192" stop-color="#000" stop-opacity="0.459"/><stop offset="0.6741" stop-color="#000" stop-opacity="0.333"/><stop offset="0.7273" stop-color="#000" stop-opacity="0.227"/><stop offset="0.7822" stop-color="#000" stop-opacity="0.133"/><stop offset="0.8370" stop-color="#000" stop-opacity="0.090"/><stop offset="0.9142" stop-color="#000" stop-opacity="0.039"/><stop offset="1.0000" stop-color="#000" stop-opacity="0.012"/></linearGradient><linearGradient id="g4" x1="0" y1="0" x2="0" y2="1"><stop offset="0.0000" stop-color="#000" stop-opacity="0.012"/><stop offset="0.1200" stop-color="#000" stop-opacity="0.027"/><stop offset="0.1616" stop-color="#000" stop-opacity="0.067"/><stop offset="0.2032" stop-color="#000" stop-opacity="0.184"/><stop offset="0.2464" stop-color="#000" stop-opacity="0.400"/><stop offset="0.2880" stop-color="#000" stop-opacity="0.647"/><stop offset="0.3440" stop-color="#000" stop-opacity="0.733"/><stop offset="0.4672" stop-color="#000" stop-opacity="0.733"/><stop offset="0.5232" stop-color="#000" stop-opacity="0.702"/><stop offset="0.5792" stop-color="#000" stop-opacity="0.600"/><stop offset="0.6352" stop-color="#000" stop-opacity="0.459"/><stop offset="0.6912" stop-color="#000" stop-opacity="0.310"/><stop offset="0.7472" stop-color="#000" stop-opacity="0.188"/><stop offset="0.8032" stop-color="#000" stop-opacity="0.110"/><stop offset="0.8592" stop-color="#000" stop-opacity="0.067"/><stop offset="0.9360" stop-color="#000" stop-opacity="0.027"/><stop offset="1.0000" stop-color="#000" stop-opacity="0.012"/></linearGradient><linearGradient id="g5" x1="0" y1="0" x2="0" y2="1"><stop offset="0.0000" stop-color="#000" stop-opacity="0.012"/><stop offset="0.1320" stop-color="#000" stop-opacity="0.020"/><stop offset="0.1800" stop-color="#000" stop-opacity="0.067"/><stop offset="0.2400" stop-color="#000" stop-opacity="0.200"/><stop offset="0.2900" stop-color="#000" stop-opacity="0.400"/><stop offset="0.3360" stop-color="#000" stop-opacity="0.600"/><stop offset="0.3800" stop-color="#000" stop-opacity="0.725"/><stop offset="0.4200" stop-color="#000" stop-opacity="0.765"/><stop offset="0.5500" stop-color="#000" stop-opacity="0.765"/><stop offset="0.6060" stop-color="#000" stop-opacity="0.608"/><stop offset="0.6600" stop-color="#000" stop-opacity="0.341"/><stop offset="0.7200" stop-color="#000" stop-opacity="0.145"/><stop offset="0.7800" stop-color="#000" stop-opacity="0.067"/><stop offset="0.8800" stop-color="#000" stop-opacity="0.027"/><stop offset="1.0000" stop-color="#000" stop-opacity="0.012"/></linearGradient><linearGradient id="g6" x1="0" y1="0" x2="0" y2="1"><stop offset="0.0000" stop-color="#000" stop-opacity="0.012"/><stop offset="0.0596" stop-color="#000" stop-opacity="0.027"/><stop offset="0.1070" stop-color="#000" stop-opacity="0.184"/><stop offset="0.1421" stop-color="#000" stop-opacity="0.459"/><stop offset="0.1789" stop-color="#000" stop-opacity="0.667"/><stop offset="0.2491" stop-color="#000" stop-opacity="0.667"/><stop offset="0.2965" stop-color="#000" stop-opacity="0.608"/><stop offset="0.3509" stop-color="#000" stop-opacity="0.490"/><stop offset="0.4035" stop-color="#000" stop-opacity="0.373"/><stop offset="0.4737" stop-color="#000" stop-opacity="0.255"/><stop offset="0.5439" stop-color="#000" stop-opacity="0.176"/><stop offset="0.6491" stop-color="#000" stop-opacity="0.137"/><stop offset="0.7895" stop-color="#000" stop-opacity="0.129"/><stop offset="0.8947" stop-color="#000" stop-opacity="0.129"/><stop offset="0.9474" stop-color="#000" stop-opacity="0.090"/><stop offset="1.0000" stop-color="#000" stop-opacity="0.012"/></linearGradient><linearGradient id="g7" x1="0" y1="0" x2="0" y2="1"><stop offset="0.0000" stop-color="#000" stop-opacity="0.012"/><stop offset="0.1429" stop-color="#000" stop-opacity="0.059"/><stop offset="0.2500" stop-color="#000" stop-opacity="0.216"/><stop offset="0.3393" stop-color="#000" stop-opacity="0.412"/><stop offset="0.4107" stop-color="#000" stop-opacity="0.522"/><stop offset="0.4821" stop-color="#000" stop-opacity="0.412"/><stop offset="0.5714" stop-color="#000" stop-opacity="0.216"/><stop offset="0.6786" stop-color="#000" stop-opacity="0.090"/><stop offset="0.8571" stop-color="#000" stop-opacity="0.027"/><stop offset="1.0000" stop-color="#000" stop-opacity="0.012"/></linearGradient><linearGradient id="g8" x1="0" y1="0" x2="0" y2="1"><stop offset="0.0000" stop-color="#000" stop-opacity="0.012"/><stop offset="0.1467" stop-color="#000" stop-opacity="0.020"/><stop offset="0.1981" stop-color="#000" stop-opacity="0.067"/><stop offset="0.2476" stop-color="#000" stop-opacity="0.216"/><stop offset="0.2971" stop-color="#000" stop-opacity="0.467"/><stop offset="0.3467" stop-color="#000" stop-opacity="0.702"/><stop offset="0.3981" stop-color="#000" stop-opacity="0.765"/><stop offset="0.5238" stop-color="#000" stop-opacity="0.765"/><stop offset="0.5733" stop-color="#000" stop-opacity="0.686"/><stop offset="0.6229" stop-color="#000" stop-opacity="0.467"/><stop offset="0.6724" stop-color="#000" stop-opacity="0.267"/><stop offset="0.7238" stop-color="#000" stop-opacity="0.145"/><stop offset="0.7905" stop-color="#000" stop-opacity="0.075"/><stop offset="0.8895" stop-color="#000" stop-opacity="0.039"/><stop offset="1.0000" stop-color="#000" stop-opacity="0.012"/></linearGradient><linearGradient id="g9" x1="0" y1="0" x2="0" y2="1"><stop offset="0.0000" stop-color="#000" stop-opacity="0.012"/><stop offset="0.1589" stop-color="#000" stop-opacity="0.020"/><stop offset="0.2075" stop-color="#000" stop-opacity="0.067"/><stop offset="0.2561" stop-color="#000" stop-opacity="0.200"/><stop offset="0.3065" stop-color="#000" stop-opacity="0.459"/><stop offset="0.3551" stop-color="#000" stop-opacity="0.686"/><stop offset="0.4037" stop-color="#000" stop-opacity="0.765"/><stop offset="0.5271" stop-color="#000" stop-opacity="0.765"/><stop offset="0.5757" stop-color="#000" stop-opacity="0.667"/><stop offset="0.6262" stop-color="#000" stop-opacity="0.467"/><stop offset="0.6748" stop-color="#000" stop-opacity="0.290"/><stop offset="0.7234" stop-color="#000" stop-opacity="0.165"/><stop offset="0.7888" stop-color="#000" stop-opacity="0.090"/><stop offset="0.8879" stop-color="#000" stop-opacity="0.047"/><stop offset="1.0000" stop-color="#000" stop-opacity="0.012"/></linearGradient></defs>
<g filter="url(#hb)" shape-rendering="crispEdges"><rect x="13" y="546.66" width="1" height="16.48" fill="url(#g0)" opacity="0.50"/><rect x="14" y="539.18" width="1" height="31.43" fill="url(#g0)"/><rect x="15" y="536.13" width="1" height="37.54" fill="url(#g0)"/><rect x="16" y="534.08" width="1" height="41.64" fill="url(#g0)"/><rect x="17" y="532.61" width="1" height="44.59" fill="url(#g0)"/><rect x="18" y="531.77" width="1" height="46.37" fill="url(#g0)"/><rect x="19" y="531.34" width="1" height="47.37" fill="url(#g0)"/><rect x="20" y="531.20" width="1" height="47.78" fill="url(#g0)"/><rect x="21" y="531.33" width="1" height="47.66" fill="url(#g0)"/><rect x="22" y="531.58" width="1" height="47.29" fill="url(#g0)"/><rect x="23" y="531.81" width="1" height="46.93" fill="url(#g0)"/><rect x="24" y="532.04" width="1" height="46.60" fill="url(#g0)"/><rect x="25" y="532.25" width="1" height="46.28" fill="url(#g0)"/><rect x="26" y="532.45" width="1" height="45.98" fill="url(#g0)"/><rect x="27" y="532.63" width="1" height="45.71" fill="url(#g0)"/><rect x="28" y="532.80" width="1" height="45.45" fill="url(#g0)"/><rect x="29" y="532.95" width="1" height="45.23" fill="url(#g0)"/><rect x="30" y="533.08" width="1" height="45.03" fill="url(#g0)"/><rect x="31" y="533.19" width="1" height="44.86" fill="url(#g0)"/><rect x="32" y="533.27" width="1" height="44.74" fill="url(#g0)"/><rect x="33" y="533.30" width="1" height="44.70" fill="url(#g0)"/><rect x="34" y="533.30" width="1" height="44.70" fill="url(#g0)"/><rect x="35" y="533.30" width="1" height="44.70" fill="url(#g0)"/><rect x="36" y="533.30" width="1" height="44.70" fill="url(#g0)"/><rect x="37" y="533.30" width="1" height="44.70" fill="url(#g0)"/><rect x="38" y="533.30" width="1" height="44.70" fill="url(#g0)"/><rect x="39" y="533.30" width="1" height="44.70" fill="url(#g0)"/><rect x="40" y="533.30" width="1" height="44.70" fill="url(#g0)"/><rect x="41" y="533.30" width="1" height="44.70" fill="url(#g0)"/><rect x="42" y="533.30" width="1" height="44.70" fill="url(#g0)"/><rect x="43" y="533.30" width="1" height="44.70" fill="url(#g0)"/><rect x="44" y="533.30" width="1" height="44.70" fill="url(#g0)"/><rect x="45" y="533.30" width="1" height="44.70" fill="url(#g0)"/><rect x="46" y="533.30" width="1" height="44.70" fill="url(#g0)"/><rect x="47" y="533.30" width="1" height="44.70" fill="url(#g0)"/><rect x="48" y="533.30" width="1" height="44.70" fill="url(#g0)"/><rect x="49" y="533.30" width="1" height="44.70" fill="url(#g0)"/><rect x="50" y="533.29" width="1" height="44.72" fill="url(#g0)"/><rect x="51" y="533.22" width="1" height="44.82" fill="url(#g0)"/><rect x="52" y="533.12" width="1" height="44.98" fill="url(#g0)"/><rect x="53" y="532.99" width="1" height="45.16" fill="url(#g0)"/><rect x="54" y="532.84" width="1" height="45.38" fill="url(#g0)"/><rect x="55" y="532.68" width="1" height="45.63" fill="url(#g0)"/><rect x="56" y="532.50" width="1" height="45.90" fill="url(#g0)"/><rect x="57" y="532.31" width="1" height="46.19" fill="url(#g0)"/><rect x="58" y="532.10" width="1" height="46.50" fill="url(#g0)"/><rect x="59" y="531.88" width="1" height="46.83" fill="url(#g0)"/><rect x="60" y="531.65" width="1" height="47.18" fill="url(#g0)"/><rect x="61" y="531.40" width="1" height="47.55" fill="url(#g0)"/><rect x="62" y="531.21" width="1" height="47.80" fill="url(#g0)"/><rect x="63" y="531.27" width="1" height="47.55" fill="url(#g0)"/><rect x="64" y="531.61" width="1" height="46.74" fill="url(#g0)"/><rect x="65" y="532.27" width="1" height="45.26" fill="url(#g0)"/><rect x="66" y="533.59" width="1" height="42.63" fill="url(#g0)"/><rect x="67" y="535.44" width="1" height="38.93" fill="url(#g0)"/><rect x="68" y="538.11" width="1" height="33.58" fill="url(#g0)"/><rect x="69" y="542.85" width="1" height="24.10" fill="url(#g0)" opacity="0.80"/></g>
<g filter="url(#hb)" shape-rendering="crispEdges"><rect x="78" y="540.00" width="1" height="59.00" fill="url(#g1)" opacity="0.80"/><rect x="79" y="540.00" width="1" height="59.00" fill="url(#g1)"/><rect x="80" y="540.00" width="1" height="59.00" fill="url(#g1)"/><rect x="81" y="540.00" width="1" height="59.00" fill="url(#g1)"/><rect x="82" y="540.00" width="1" height="59.00" fill="url(#g1)"/><rect x="83" y="540.00" width="1" height="59.00" fill="url(#g1)"/><rect x="84" y="540.00" width="1" height="59.00" fill="url(#g1)"/><rect x="85" y="540.00" width="1" height="59.00" fill="url(#g1)"/><rect x="86" y="540.00" width="1" height="59.00" fill="url(#g1)"/><rect x="87" y="540.00" width="1" height="59.00" fill="url(#g1)"/><rect x="88" y="540.00" width="1" height="59.00" fill="url(#g1)"/><rect x="89" y="540.00" width="1" height="59.00" fill="url(#g1)"/><rect x="90" y="540.00" width="1" height="59.00" fill="url(#g1)"/><rect x="91" y="540.00" width="1" height="59.00" fill="url(#g1)"/><rect x="92" y="540.00" width="1" height="59.00" fill="url(#g1)"/><rect x="93" y="540.00" width="1" height="59.00" fill="url(#g1)"/><rect x="94" y="540.00" width="1" height="59.00" fill="url(#g1)"/><rect x="95" y="540.00" width="1" height="59.00" fill="url(#g1)"/><rect x="96" y="540.00" width="1" height="59.00" fill="url(#g1)"/><rect x="97" y="540.00" width="1" height="59.00" fill="url(#g1)"/><rect x="98" y="540.00" width="1" height="59.00" fill="url(#g1)"/><rect x="99" y="540.00" width="1" height="59.00" fill="url(#g1)"/><rect x="100" y="540.00" width="1" height="59.00" fill="url(#g1)"/><rect x="101" y="540.00" width="1" height="59.00" fill="url(#g1)"/><rect x="102" y="540.00" width="1" height="59.00" fill="url(#g1)"/><rect x="103" y="540.00" width="1" height="59.00" fill="url(#g1)"/><rect x="104" y="540.00" width="1" height="59.00" fill="url(#g1)"/><rect x="105" y="540.00" width="1" height="59.00" fill="url(#g1)"/><rect x="106" y="540.00" width="1" height="59.00" fill="url(#g1)"/><rect x="107" y="540.00" width="1" height="59.00" fill="url(#g1)"/><rect x="108" y="540.00" width="1" height="59.00" fill="url(#g1)"/><rect x="109" y="540.00" width="1" height="59.00" fill="url(#g1)"/><rect x="110" y="540.00" width="1" height="59.00" fill="url(#g1)"/><rect x="111" y="540.00" width="1" height="59.00" fill="url(#g1)"/><rect x="112" y="540.00" width="1" height="59.00" fill="url(#g1)"/><rect x="113" y="540.00" width="1" height="59.00" fill="url(#g1)"/><rect x="114" y="540.00" width="1" height="59.00" fill="url(#g1)"/><rect x="115" y="540.00" width="1" height="59.00" fill="url(#g1)"/><rect x="116" y="540.00" width="1" height="59.00" fill="url(#g1)"/><rect x="117" y="540.00" width="1" height="59.00" fill="url(#g1)"/><rect x="118" y="540.00" width="1" height="59.00" fill="url(#g1)"/><rect x="119" y="540.00" width="1" height="59.00" fill="url(#g1)"/><rect x="120" y="540.00" width="1" height="59.00" fill="url(#g1)"/><rect x="121" y="540.00" width="1" height="59.00" fill="url(#g1)"/><rect x="122" y="540.00" width="1" height="59.00" fill="url(#g1)"/><rect x="123" y="540.00" width="1" height="59.00" fill="url(#g1)"/><rect x="124" y="540.00" width="1" height="59.00" fill="url(#g1)"/><rect x="125" y="540.00" width="1" height="59.00" fill="url(#g1)"/><rect x="126" y="540.00" width="1" height="59.00" fill="url(#g1)"/><rect x="127" y="540.00" width="1" height="59.00" fill="url(#g1)"/></g>
<g filter="url(#hb)" shape-rendering="crispEdges"><rect x="76" y="590.41" width="1" height="21.18" fill="url(#g2)"/><rect x="77" y="587.00" width="1" height="28.00" fill="url(#g2)"/><rect x="78" y="585.14" width="1" height="31.72" fill="url(#g2)"/><rect x="79" y="584.06" width="1" height="33.87" fill="url(#g2)"/><rect x="80" y="583.59" width="1" height="34.82" fill="url(#g2)"/><rect x="81" y="583.58" width="1" height="34.84" fill="url(#g2)"/><rect x="82" y="583.63" width="1" height="34.75" fill="url(#g2)"/><rect x="83" y="583.67" width="1" height="34.65" fill="url(#g2)"/><rect x="84" y="583.72" width="1" height="34.57" fill="url(#g2)"/><rect x="85" y="583.76" width="1" height="34.48" fill="url(#g2)"/><rect x="86" y="583.80" width="1" height="34.40" fill="url(#g2)"/><rect x="87" y="583.84" width="1" height="34.33" fill="url(#g2)"/><rect x="88" y="583.87" width="1" height="34.26" fill="url(#g2)"/><rect x="89" y="583.90" width="1" height="34.20" fill="url(#g2)"/><rect x="90" y="583.93" width="1" height="34.14" fill="url(#g2)"/><rect x="91" y="583.96" width="1" height="34.09" fill="url(#g2)"/><rect x="92" y="583.98" width="1" height="34.05" fill="url(#g2)"/><rect x="93" y="583.99" width="1" height="34.01" fill="url(#g2)"/><rect x="94" y="584.00" width="1" height="34.00" fill="url(#g2)"/><rect x="95" y="584.00" width="1" height="34.00" fill="url(#g2)"/><rect x="96" y="584.00" width="1" height="34.00" fill="url(#g2)"/><rect x="97" y="584.00" width="1" height="34.00" fill="url(#g2)"/><rect x="98" y="584.00" width="1" height="34.00" fill="url(#g2)"/><rect x="99" y="584.00" width="1" height="34.00" fill="url(#g2)"/><rect x="100" y="584.00" width="1" height="34.00" fill="url(#g2)"/><rect x="101" y="584.00" width="1" height="34.00" fill="url(#g2)"/><rect x="102" y="584.00" width="1" height="34.00" fill="url(#g2)"/><rect x="103" y="584.00" width="1" height="34.00" fill="url(#g2)"/><rect x="104" y="584.00" width="1" height="34.00" fill="url(#g2)"/><rect x="105" y="584.00" width="1" height="34.00" fill="url(#g2)"/><rect x="106" y="584.00" width="1" height="34.00" fill="url(#g2)"/><rect x="107" y="584.00" width="1" height="34.00" fill="url(#g2)"/><rect x="108" y="584.00" width="1" height="34.00" fill="url(#g2)"/><rect x="109" y="584.00" width="1" height="34.00" fill="url(#g2)"/><rect x="110" y="584.00" width="1" height="34.00" fill="url(#g2)"/><rect x="111" y="583.99" width="1" height="34.03" fill="url(#g2)"/><rect x="112" y="583.97" width="1" height="34.07" fill="url(#g2)"/><rect x="113" y="583.94" width="1" height="34.11" fill="url(#g2)"/><rect x="114" y="583.92" width="1" height="34.17" fill="url(#g2)"/><rect x="115" y="583.89" width="1" height="34.23" fill="url(#g2)"/><rect x="116" y="583.85" width="1" height="34.29" fill="url(#g2)"/><rect x="117" y="583.82" width="1" height="34.37" fill="url(#g2)"/><rect x="118" y="583.78" width="1" height="34.44" fill="url(#g2)"/><rect x="119" y="583.74" width="1" height="34.52" fill="url(#g2)"/><rect x="120" y="583.70" width="1" height="34.61" fill="url(#g2)"/><rect x="121" y="583.65" width="1" height="34.70" fill="url(#g2)"/><rect x="122" y="583.60" width="1" height="34.79" fill="url(#g2)"/><rect x="123" y="583.55" width="1" height="34.89" fill="url(#g2)"/><rect x="124" y="583.75" width="1" height="34.50" fill="url(#g2)"/><rect x="125" y="584.52" width="1" height="32.95" fill="url(#g2)"/><rect x="126" y="585.95" width="1" height="30.10" fill="url(#g2)"/><rect x="127" y="588.40" width="1" height="25.20" fill="url(#g2)"/><rect x="128" y="595.14" width="1" height="11.72" fill="url(#g2)" opacity="0.50"/></g>
<g filter="url(#hb)" shape-rendering="crispEdges"><rect x="137" y="551.25" width="1" height="20.20" fill="url(#g3)" opacity="0.50"/><rect x="138" y="542.09" width="1" height="38.52" fill="url(#g3)"/><rect x="139" y="538.35" width="1" height="46.01" fill="url(#g3)"/><rect x="140" y="535.83" width="1" height="51.04" fill="url(#g3)"/><rect x="141" y="534.03" width="1" height="54.64" fill="url(#g3)"/><rect x="142" y="532.81" width="1" height="57.07" fill="url(#g3)"/><rect x="143" y="532.04" width="1" height="58.62" fill="url(#g3)"/><rect x="144" y="531.63" width="1" height="59.45" fill="url(#g3)"/><rect x="145" y="531.55" width="1" height="59.60" fill="url(#g3)"/><rect x="146" y="531.63" width="1" height="59.44" fill="url(#g3)"/><rect x="147" y="531.71" width="1" height="59.28" fill="url(#g3)"/><rect x="148" y="531.79" width="1" height="59.13" fill="url(#g3)"/><rect x="149" y="531.86" width="1" height="58.99" fill="url(#g3)"/><rect x="150" y="531.92" width="1" height="58.86" fill="url(#g3)"/><rect x="151" y="531.98" width="1" height="58.73" fill="url(#g3)"/><rect x="152" y="532.04" width="1" height="58.62" fill="url(#g3)"/><rect x="153" y="532.09" width="1" height="58.52" fill="url(#g3)"/><rect x="154" y="532.13" width="1" height="58.43" fill="url(#g3)"/><rect x="155" y="532.17" width="1" height="58.36" fill="url(#g3)"/><rect x="156" y="532.19" width="1" height="58.31" fill="url(#g3)"/><rect x="157" y="532.20" width="1" height="58.30" fill="url(#g3)"/><rect x="158" y="532.20" width="1" height="58.30" fill="url(#g3)"/><rect x="159" y="532.20" width="1" height="58.30" fill="url(#g3)"/><rect x="160" y="532.20" width="1" height="58.30" fill="url(#g3)"/><rect x="161" y="532.20" width="1" height="58.30" fill="url(#g3)"/><rect x="162" y="532.20" width="1" height="58.30" fill="url(#g3)"/><rect x="163" y="532.20" width="1" height="58.30" fill="url(#g3)"/><rect x="164" y="532.20" width="1" height="58.30" fill="url(#g3)"/><rect x="165" y="532.20" width="1" height="58.30" fill="url(#g3)"/><rect x="166" y="532.20" width="1" height="58.30" fill="url(#g3)"/><rect x="167" y="532.20" width="1" height="58.30" fill="url(#g3)"/><rect x="168" y="532.20" width="1" height="58.30" fill="url(#g3)"/><rect x="169" y="532.20" width="1" height="58.30" fill="url(#g3)"/><rect x="170" y="532.20" width="1" height="58.30" fill="url(#g3)"/><rect x="171" y="532.20" width="1" height="58.30" fill="url(#g3)"/><rect x="172" y="532.20" width="1" height="58.30" fill="url(#g3)"/><rect x="173" y="532.20" width="1" height="58.30" fill="url(#g3)"/><rect x="174" y="532.19" width="1" height="58.32" fill="url(#g3)"/><rect x="175" y="532.16" width="1" height="58.38" fill="url(#g3)"/><rect x="176" y="532.12" width="1" height="58.45" fill="url(#g3)"/><rect x="177" y="532.08" width="1" height="58.54" fill="url(#g3)"/><rect x="178" y="532.03" width="1" height="58.64" fill="url(#g3)"/><rect x="179" y="531.97" width="1" height="58.76" fill="url(#g3)"/><rect x="180" y="531.91" width="1" height="58.88" fill="url(#g3)"/><rect x="181" y="531.84" width="1" height="59.02" fill="url(#g3)"/><rect x="182" y="531.77" width="1" height="59.16" fill="url(#g3)"/><rect x="183" y="531.70" width="1" height="59.31" fill="url(#g3)"/><rect x="184" y="531.62" width="1" height="59.47" fill="url(#g3)"/><rect x="185" y="531.54" width="1" height="59.62" fill="url(#g3)"/><rect x="186" y="531.68" width="1" height="59.34" fill="url(#g3)"/><rect x="187" y="532.16" width="1" height="58.37" fill="url(#g3)"/><rect x="188" y="533.02" width="1" height="56.66" fill="url(#g3)"/><rect x="189" y="534.34" width="1" height="54.02" fill="url(#g3)"/><rect x="190" y="536.27" width="1" height="50.17" fill="url(#g3)"/><rect x="191" y="538.97" width="1" height="44.77" fill="url(#g3)"/><rect x="192" y="543.11" width="1" height="36.49" fill="url(#g3)"/><rect x="193" y="551.25" width="1" height="20.20" fill="url(#g3)" opacity="0.30"/></g>
<g filter="url(#hb)" shape-rendering="crispEdges"><rect x="201" y="545.25" width="1" height="27.49" fill="url(#g4)" opacity="0.60"/><rect x="202" y="537.08" width="1" height="43.83" fill="url(#g4)"/><rect x="203" y="533.11" width="1" height="51.77" fill="url(#g4)"/><rect x="204" y="530.41" width="1" height="57.17" fill="url(#g4)"/><rect x="205" y="528.53" width="1" height="60.98" fill="url(#g4)"/><rect x="206" y="527.50" width="1" height="63.30" fill="url(#g4)"/><rect x="207" y="526.92" width="1" height="64.71" fill="url(#g4)"/><rect x="208" y="526.73" width="1" height="65.31" fill="url(#g4)"/><rect x="209" y="526.90" width="1" height="65.20" fill="url(#g4)"/><rect x="210" y="527.20" width="1" height="64.82" fill="url(#g4)"/><rect x="211" y="527.48" width="1" height="64.45" fill="url(#g4)"/><rect x="212" y="527.75" width="1" height="64.11" fill="url(#g4)"/><rect x="213" y="528.00" width="1" height="63.79" fill="url(#g4)"/><rect x="214" y="528.23" width="1" height="63.49" fill="url(#g4)"/><rect x="215" y="528.44" width="1" height="63.23" fill="url(#g4)"/><rect x="216" y="528.62" width="1" height="62.99" fill="url(#g4)"/><rect x="217" y="528.78" width="1" height="62.78" fill="url(#g4)"/><rect x="218" y="528.91" width="1" height="62.62" fill="url(#g4)"/><rect x="219" y="528.99" width="1" height="62.51" fill="url(#g4)"/><rect x="220" y="529.00" width="1" height="62.50" fill="url(#g4)"/><rect x="221" y="529.00" width="1" height="62.50" fill="url(#g4)"/><rect x="222" y="529.00" width="1" height="62.50" fill="url(#g4)"/><rect x="223" y="529.00" width="1" height="62.50" fill="url(#g4)"/><rect x="224" y="529.00" width="1" height="62.50" fill="url(#g4)"/><rect x="225" y="529.00" width="1" height="62.50" fill="url(#g4)"/><rect x="226" y="529.00" width="1" height="62.50" fill="url(#g4)"/><rect x="227" y="529.00" width="1" height="62.50" fill="url(#g4)"/><rect x="228" y="529.00" width="1" height="62.50" fill="url(#g4)"/><rect x="229" y="529.00" width="1" height="62.50" fill="url(#g4)"/><rect x="230" y="529.00" width="1" height="62.50" fill="url(#g4)"/><rect x="231" y="529.00" width="1" height="62.50" fill="url(#g4)"/><rect x="232" y="529.00" width="1" height="62.50" fill="url(#g4)"/><rect x="233" y="529.00" width="1" height="62.50" fill="url(#g4)"/><rect x="234" y="529.00" width="1" height="62.50" fill="url(#g4)"/><rect x="235" y="529.00" width="1" height="62.50" fill="url(#g4)"/><rect x="236" y="528.94" width="1" height="62.58" fill="url(#g4)"/><rect x="237" y="528.82" width="1" height="62.73" fill="url(#g4)"/><rect x="238" y="528.67" width="1" height="62.92" fill="url(#g4)"/><rect x="239" y="528.49" width="1" height="63.15" fill="url(#g4)"/><rect x="240" y="528.29" width="1" height="63.41" fill="url(#g4)"/><rect x="241" y="528.07" width="1" height="63.70" fill="url(#g4)"/><rect x="242" y="527.82" width="1" height="64.01" fill="url(#g4)"/><rect x="243" y="527.56" width="1" height="64.35" fill="url(#g4)"/><rect x="244" y="527.28" width="1" height="64.71" fill="url(#g4)"/><rect x="245" y="526.99" width="1" height="65.08" fill="url(#g4)"/><rect x="246" y="526.74" width="1" height="65.35" fill="url(#g4)"/><rect x="247" y="526.82" width="1" height="64.97" fill="url(#g4)"/><rect x="248" y="527.28" width="1" height="63.81" fill="url(#g4)"/><rect x="249" y="528.17" width="1" height="61.78" fill="url(#g4)"/><rect x="250" y="529.76" width="1" height="58.47" fill="url(#g4)"/><rect x="251" y="532.20" width="1" height="53.59" fill="url(#g4)"/><rect x="252" y="535.70" width="1" height="46.60" fill="url(#g4)"/><rect x="253" y="541.63" width="1" height="34.74" fill="url(#g4)" opacity="0.90"/></g>
<g filter="url(#hb)" shape-rendering="crispEdges"><rect x="259" y="543.62" width="1" height="17.76" fill="url(#g5)" opacity="0.30"/><rect x="260" y="536.46" width="1" height="32.07" fill="url(#g5)"/><rect x="261" y="532.83" width="1" height="39.35" fill="url(#g5)"/><rect x="262" y="530.45" width="1" height="44.09" fill="url(#g5)"/><rect x="263" y="528.76" width="1" height="47.48" fill="url(#g5)"/><rect x="264" y="527.65" width="1" height="49.76" fill="url(#g5)"/><rect x="265" y="527.00" width="1" height="51.15" fill="url(#g5)"/><rect x="266" y="526.67" width="1" height="51.88" fill="url(#g5)"/><rect x="267" y="526.65" width="1" height="52.03" fill="url(#g5)"/><rect x="268" y="526.81" width="1" height="51.79" fill="url(#g5)"/><rect x="269" y="526.96" width="1" height="51.56" fill="url(#g5)"/><rect x="270" y="527.11" width="1" height="51.33" fill="url(#g5)"/><rect x="271" y="527.26" width="1" height="51.12" fill="url(#g5)"/><rect x="272" y="527.39" width="1" height="50.92" fill="url(#g5)"/><rect x="273" y="527.51" width="1" height="50.73" fill="url(#g5)"/><rect x="274" y="527.63" width="1" height="50.56" fill="url(#g5)"/><rect x="275" y="527.73" width="1" height="50.40" fill="url(#g5)"/><rect x="276" y="527.82" width="1" height="50.26" fill="url(#g5)"/><rect x="277" y="527.90" width="1" height="50.15" fill="url(#g5)"/><rect x="278" y="527.96" width="1" height="50.05" fill="url(#g5)"/><rect x="279" y="528.00" width="1" height="50.00" fill="url(#g5)"/><rect x="280" y="528.00" width="1" height="50.00" fill="url(#g5)"/><rect x="281" y="528.00" width="1" height="50.00" fill="url(#g5)"/><rect x="282" y="528.00" width="1" height="50.00" fill="url(#g5)"/><rect x="283" y="528.00" width="1" height="50.00" fill="url(#g5)"/><rect x="284" y="528.00" width="1" height="50.00" fill="url(#g5)"/><rect x="285" y="528.00" width="1" height="50.00" fill="url(#g5)"/><rect x="286" y="528.00" width="1" height="50.00" fill="url(#g5)"/><rect x="287" y="528.00" width="1" height="50.00" fill="url(#g5)"/><rect x="288" y="528.00" width="1" height="50.00" fill="url(#g5)"/><rect x="289" y="528.00" width="1" height="50.00" fill="url(#g5)"/><rect x="290" y="528.00" width="1" height="50.00" fill="url(#g5)"/><rect x="291" y="528.00" width="1" height="50.00" fill="url(#g5)"/><rect x="292" y="528.00" width="1" height="50.00" fill="url(#g5)"/><rect x="293" y="528.00" width="1" height="50.00" fill="url(#g5)"/><rect x="294" y="528.00" width="1" height="50.00" fill="url(#g5)"/><rect x="295" y="528.00" width="1" height="50.00" fill="url(#g5)"/><rect x="296" y="528.00" width="1" height="50.00" fill="url(#g5)"/><rect x="297" y="527.97" width="1" height="50.04" fill="url(#g5)"/><rect x="298" y="527.92" width="1" height="50.13" fill="url(#g5)"/><rect x="299" y="527.84" width="1" height="50.24" fill="url(#g5)"/><rect x="300" y="527.75" width="1" height="50.37" fill="url(#g5)"/><rect x="301" y="527.65" width="1" height="50.52" fill="url(#g5)"/><rect x="302" y="527.54" width="1" height="50.69" fill="url(#g5)"/><rect x="303" y="527.42" width="1" height="50.88" fill="url(#g5)"/><rect x="304" y="527.28" width="1" height="51.07" fill="url(#g5)"/><rect x="305" y="527.14" width="1" height="51.29" fill="url(#g5)"/><rect x="306" y="526.99" width="1" height="51.51" fill="url(#g5)"/><rect x="307" y="526.84" width="1" height="51.74" fill="url(#g5)"/><rect x="308" y="526.67" width="1" height="51.99" fill="url(#g5)"/><rect x="309" y="526.65" width="1" height="51.96" fill="url(#g5)"/><rect x="310" y="526.91" width="1" height="51.35" fill="url(#g5)"/><rect x="311" y="527.49" width="1" height="50.09" fill="url(#g5)"/><rect x="312" y="528.49" width="1" height="48.03" fill="url(#g5)"/><rect x="313" y="530.07" width="1" height="44.86" fill="url(#g5)"/><rect x="314" y="532.28" width="1" height="40.44" fill="url(#g5)"/><rect x="315" y="535.57" width="1" height="33.86" fill="url(#g5)"/><rect x="316" y="543.62" width="1" height="17.76" fill="url(#g5)" opacity="0.50"/></g>
<g filter="url(#hb)" shape-rendering="crispEdges"><rect x="323" y="557.28" width="1" height="19.43" fill="url(#g6)" opacity="0.10"/><rect x="324" y="547.61" width="1" height="38.79" fill="url(#g6)"/><rect x="325" y="542.06" width="1" height="49.88" fill="url(#g6)"/><rect x="326" y="539.28" width="1" height="55.43" fill="url(#g6)"/><rect x="327" y="538.10" width="1" height="57.80" fill="url(#g6)"/><rect x="328" y="538.07" width="1" height="57.93" fill="url(#g6)"/><rect x="329" y="538.16" width="1" height="57.84" fill="url(#g6)"/><rect x="330" y="538.26" width="1" height="57.74" fill="url(#g6)"/><rect x="331" y="538.35" width="1" height="57.65" fill="url(#g6)"/><rect x="332" y="538.44" width="1" height="57.56" fill="url(#g6)"/><rect x="333" y="538.52" width="1" height="57.48" fill="url(#g6)"/><rect x="334" y="538.60" width="1" height="57.40" fill="url(#g6)"/><rect x="335" y="538.67" width="1" height="57.33" fill="url(#g6)"/><rect x="336" y="538.74" width="1" height="57.26" fill="url(#g6)"/><rect x="337" y="538.81" width="1" height="57.19" fill="url(#g6)"/><rect x="338" y="538.86" width="1" height="57.14" fill="url(#g6)"/><rect x="339" y="538.91" width="1" height="57.09" fill="url(#g6)"/><rect x="340" y="538.95" width="1" height="57.05" fill="url(#g6)"/><rect x="341" y="538.99" width="1" height="57.01" fill="url(#g6)"/><rect x="342" y="539.00" width="1" height="57.00" fill="url(#g6)"/><rect x="343" y="539.00" width="1" height="57.00" fill="url(#g6)"/><rect x="344" y="539.00" width="1" height="57.00" fill="url(#g6)"/><rect x="345" y="539.00" width="1" height="57.00" fill="url(#g6)"/><rect x="346" y="539.00" width="1" height="57.00" fill="url(#g6)"/><rect x="347" y="539.00" width="1" height="57.00" fill="url(#g6)"/><rect x="348" y="539.00" width="1" height="57.00" fill="url(#g6)"/><rect x="349" y="539.00" width="1" height="57.00" fill="url(#g6)"/><rect x="350" y="539.00" width="1" height="57.00" fill="url(#g6)"/><rect x="351" y="539.00" width="1" height="57.00" fill="url(#g6)"/><rect x="352" y="539.00" width="1" height="57.00" fill="url(#g6)"/><rect x="353" y="539.00" width="1" height="57.00" fill="url(#g6)"/><rect x="354" y="539.00" width="1" height="57.00" fill="url(#g6)"/><rect x="355" y="539.00" width="1" height="57.00" fill="url(#g6)"/><rect x="356" y="539.00" width="1" height="57.00" fill="url(#g6)"/><rect x="357" y="539.00" width="1" height="57.00" fill="url(#g6)"/><rect x="358" y="539.00" width="1" height="57.00" fill="url(#g6)"/><rect x="359" y="538.97" width="1" height="57.03" fill="url(#g6)"/><rect x="360" y="538.94" width="1" height="57.06" fill="url(#g6)"/><rect x="361" y="538.89" width="1" height="57.11" fill="url(#g6)"/><rect x="362" y="538.84" width="1" height="57.16" fill="url(#g6)"/><rect x="363" y="538.78" width="1" height="57.22" fill="url(#g6)"/><rect x="364" y="538.72" width="1" height="57.28" fill="url(#g6)"/><rect x="365" y="538.64" width="1" height="57.36" fill="url(#g6)"/><rect x="366" y="538.57" width="1" height="57.43" fill="url(#g6)"/><rect x="367" y="538.49" width="1" height="57.51" fill="url(#g6)"/><rect x="368" y="538.40" width="1" height="57.60" fill="url(#g6)"/><rect x="369" y="538.32" width="1" height="57.68" fill="url(#g6)"/><rect x="370" y="538.22" width="1" height="57.78" fill="url(#g6)"/><rect x="371" y="538.13" width="1" height="57.87" fill="url(#g6)"/><rect x="372" y="538.02" width="1" height="57.98" fill="url(#g6)"/><rect x="373" y="538.41" width="1" height="57.18" fill="url(#g6)"/><rect x="374" y="540.17" width="1" height="53.66" fill="url(#g6)"/><rect x="375" y="543.80" width="1" height="46.39" fill="url(#g6)"/><rect x="376" y="551.96" width="1" height="30.08" fill="url(#g6)" opacity="0.70"/></g>
<g filter="url(#hb)" shape-rendering="crispEdges"><rect x="326" y="595.14" width="1" height="9.71" fill="url(#g7)" opacity="0.20"/><rect x="327" y="590.47" width="1" height="19.06" fill="url(#g7)"/><rect x="328" y="588.02" width="1" height="23.95" fill="url(#g7)"/><rect x="329" y="586.64" width="1" height="26.72" fill="url(#g7)"/><rect x="330" y="585.85" width="1" height="28.30" fill="url(#g7)"/><rect x="331" y="585.57" width="1" height="28.85" fill="url(#g7)"/><rect x="332" y="585.61" width="1" height="28.78" fill="url(#g7)"/><rect x="333" y="585.66" width="1" height="28.68" fill="url(#g7)"/><rect x="334" y="585.71" width="1" height="28.59" fill="url(#g7)"/><rect x="335" y="585.75" width="1" height="28.50" fill="url(#g7)"/><rect x="336" y="585.79" width="1" height="28.41" fill="url(#g7)"/><rect x="337" y="585.83" width="1" height="28.33" fill="url(#g7)"/><rect x="338" y="585.87" width="1" height="28.26" fill="url(#g7)"/><rect x="339" y="585.90" width="1" height="28.19" fill="url(#g7)"/><rect x="340" y="585.93" width="1" height="28.13" fill="url(#g7)"/><rect x="341" y="585.96" width="1" height="28.08" fill="url(#g7)"/><rect x="342" y="585.98" width="1" height="28.04" fill="url(#g7)"/><rect x="343" y="586.00" width="1" height="28.01" fill="url(#g7)"/><rect x="344" y="586.00" width="1" height="28.00" fill="url(#g7)"/><rect x="345" y="586.00" width="1" height="28.00" fill="url(#g7)"/><rect x="346" y="586.00" width="1" height="28.00" fill="url(#g7)"/><rect x="347" y="586.00" width="1" height="28.00" fill="url(#g7)"/><rect x="348" y="586.00" width="1" height="28.00" fill="url(#g7)"/><rect x="349" y="586.00" width="1" height="28.00" fill="url(#g7)"/><rect x="350" y="586.00" width="1" height="28.00" fill="url(#g7)"/><rect x="351" y="586.00" width="1" height="28.00" fill="url(#g7)"/><rect x="352" y="586.00" width="1" height="28.00" fill="url(#g7)"/><rect x="353" y="586.00" width="1" height="28.00" fill="url(#g7)"/><rect x="354" y="586.00" width="1" height="28.00" fill="url(#g7)"/><rect x="355" y="586.00" width="1" height="28.00" fill="url(#g7)"/><rect x="356" y="586.00" width="1" height="28.00" fill="url(#g7)"/><rect x="357" y="586.00" width="1" height="28.00" fill="url(#g7)"/><rect x="358" y="586.00" width="1" height="28.00" fill="url(#g7)"/><rect x="359" y="585.99" width="1" height="28.01" fill="url(#g7)"/><rect x="360" y="585.98" width="1" height="28.05" fill="url(#g7)"/><rect x="361" y="585.95" width="1" height="28.09" fill="url(#g7)"/><rect x="362" y="585.93" width="1" height="28.15" fill="url(#g7)"/><rect x="363" y="585.89" width="1" height="28.21" fill="url(#g7)"/><rect x="364" y="585.86" width="1" height="28.28" fill="url(#g7)"/><rect x="365" y="585.82" width="1" height="28.36" fill="url(#g7)"/><rect x="366" y="585.78" width="1" height="28.44" fill="url(#g7)"/><rect x="367" y="585.74" width="1" height="28.52" fill="url(#g7)"/><rect x="368" y="585.69" width="1" height="28.62" fill="url(#g7)"/><rect x="369" y="585.64" width="1" height="28.71" fill="url(#g7)"/><rect x="370" y="585.59" width="1" height="28.82" fill="url(#g7)"/><rect x="371" y="585.61" width="1" height="28.78" fill="url(#g7)"/><rect x="372" y="586.03" width="1" height="27.93" fill="url(#g7)"/><rect x="373" y="586.98" width="1" height="26.04" fill="url(#g7)"/><rect x="374" y="588.61" width="1" height="22.79" fill="url(#g7)"/><rect x="375" y="591.67" width="1" height="16.66" fill="url(#g7)" opacity="0.90"/></g>
<g filter="url(#hb)" shape-rendering="crispEdges"><rect x="384" y="544.54" width="1" height="18.42" fill="url(#g8)" opacity="0.50"/><rect x="385" y="536.12" width="1" height="35.14" fill="url(#g8)"/><rect x="386" y="532.65" width="1" height="41.97" fill="url(#g8)"/><rect x="387" y="530.29" width="1" height="46.55" fill="url(#g8)"/><rect x="388" y="528.59" width="1" height="49.84" fill="url(#g8)"/><rect x="389" y="527.44" width="1" height="52.05" fill="url(#g8)"/><rect x="390" y="526.72" width="1" height="53.41" fill="url(#g8)"/><rect x="391" y="526.33" width="1" height="54.11" fill="url(#g8)"/><rect x="392" y="526.25" width="1" height="54.20" fill="url(#g8)"/><rect x="393" y="526.31" width="1" height="54.00" fill="url(#g8)"/><rect x="394" y="526.37" width="1" height="53.81" fill="url(#g8)"/><rect x="395" y="526.42" width="1" height="53.62" fill="url(#g8)"/><rect x="396" y="526.46" width="1" height="53.45" fill="url(#g8)"/><rect x="397" y="526.50" width="1" height="53.28" fill="url(#g8)"/><rect x="398" y="526.53" width="1" height="53.13" fill="url(#g8)"/><rect x="399" y="526.56" width="1" height="52.99" fill="url(#g8)"/><rect x="400" y="526.57" width="1" height="52.86" fill="url(#g8)"/><rect x="401" y="526.58" width="1" height="52.74" fill="url(#g8)"/><rect x="402" y="526.58" width="1" height="52.65" fill="url(#g8)"/><rect x="403" y="526.57" width="1" height="52.56" fill="url(#g8)"/><rect x="404" y="526.54" width="1" height="52.51" fill="url(#g8)"/><rect x="405" y="526.49" width="1" height="52.50" fill="url(#g8)"/><rect x="406" y="526.43" width="1" height="52.50" fill="url(#g8)"/><rect x="407" y="526.37" width="1" height="52.50" fill="url(#g8)"/><rect x="408" y="526.31" width="1" height="52.50" fill="url(#g8)"/><rect x="409" y="526.25" width="1" height="52.50" fill="url(#g8)"/><rect x="410" y="526.19" width="1" height="52.50" fill="url(#g8)"/><rect x="411" y="526.13" width="1" height="52.50" fill="url(#g8)"/><rect x="412" y="526.07" width="1" height="52.50" fill="url(#g8)"/><rect x="413" y="526.01" width="1" height="52.50" fill="url(#g8)"/><rect x="414" y="525.95" width="1" height="52.50" fill="url(#g8)"/><rect x="415" y="525.89" width="1" height="52.50" fill="url(#g8)"/><rect x="416" y="525.83" width="1" height="52.50" fill="url(#g8)"/><rect x="417" y="525.77" width="1" height="52.50" fill="url(#g8)"/><rect x="418" y="525.71" width="1" height="52.50" fill="url(#g8)"/><rect x="419" y="525.65" width="1" height="52.50" fill="url(#g8)"/><rect x="420" y="525.59" width="1" height="52.50" fill="url(#g8)"/><rect x="421" y="525.53" width="1" height="52.50" fill="url(#g8)"/><rect x="422" y="525.47" width="1" height="52.50" fill="url(#g8)"/><rect x="423" y="525.38" width="1" height="52.55" fill="url(#g8)"/><rect x="424" y="525.28" width="1" height="52.62" fill="url(#g8)"/><rect x="425" y="525.16" width="1" height="52.71" fill="url(#g8)"/><rect x="426" y="525.03" width="1" height="52.82" fill="url(#g8)"/><rect x="427" y="524.90" width="1" height="52.95" fill="url(#g8)"/><rect x="428" y="524.76" width="1" height="53.09" fill="url(#g8)"/><rect x="429" y="524.61" width="1" height="53.24" fill="url(#g8)"/><rect x="430" y="524.45" width="1" height="53.40" fill="url(#g8)"/><rect x="431" y="524.29" width="1" height="53.57" fill="url(#g8)"/><rect x="432" y="524.12" width="1" height="53.75" fill="url(#g8)"/><rect x="433" y="523.94" width="1" height="53.94" fill="url(#g8)"/><rect x="434" y="523.76" width="1" height="54.14" fill="url(#g8)"/><rect x="435" y="523.65" width="1" height="54.20" fill="url(#g8)"/><rect x="436" y="523.83" width="1" height="53.69" fill="url(#g8)"/><rect x="437" y="524.32" width="1" height="52.54" fill="url(#g8)"/><rect x="438" y="525.19" width="1" height="50.63" fill="url(#g8)"/><rect x="439" y="526.62" width="1" height="47.66" fill="url(#g8)"/><rect x="440" y="528.63" width="1" height="43.51" fill="url(#g8)"/><rect x="441" y="531.56" width="1" height="37.54" fill="url(#g8)"/><rect x="442" y="536.80" width="1" height="26.94" fill="url(#g8)" opacity="0.80"/></g>
<g filter="url(#hb)" shape-rendering="crispEdges"><rect x="449" y="535.40" width="1" height="27.68" fill="url(#g9)" opacity="0.80"/><rect x="450" y="529.92" width="1" height="38.56" fill="url(#g9)"/><rect x="451" y="526.82" width="1" height="44.70" fill="url(#g9)"/><rect x="452" y="524.66" width="1" height="48.95" fill="url(#g9)"/><rect x="453" y="523.10" width="1" height="52.00" fill="url(#g9)"/><rect x="454" y="522.17" width="1" height="53.88" fill="url(#g9)"/><rect x="455" y="521.61" width="1" height="55.02" fill="url(#g9)"/><rect x="456" y="521.38" width="1" height="55.50" fill="url(#g9)"/><rect x="457" y="521.44" width="1" height="55.40" fill="url(#g9)"/><rect x="458" y="521.57" width="1" height="55.15" fill="url(#g9)"/><rect x="459" y="521.69" width="1" height="54.92" fill="url(#g9)"/><rect x="460" y="521.80" width="1" height="54.70" fill="url(#g9)"/><rect x="461" y="521.90" width="1" height="54.49" fill="url(#g9)"/><rect x="462" y="522.00" width="1" height="54.30" fill="url(#g9)"/><rect x="463" y="522.08" width="1" height="54.12" fill="url(#g9)"/><rect x="464" y="522.15" width="1" height="53.96" fill="url(#g9)"/><rect x="465" y="522.21" width="1" height="53.81" fill="url(#g9)"/><rect x="466" y="522.26" width="1" height="53.68" fill="url(#g9)"/><rect x="467" y="522.30" width="1" height="53.58" fill="url(#g9)"/><rect x="468" y="522.31" width="1" height="53.51" fill="url(#g9)"/><rect x="469" y="522.28" width="1" height="53.50" fill="url(#g9)"/><rect x="470" y="522.24" width="1" height="53.50" fill="url(#g9)"/><rect x="471" y="522.21" width="1" height="53.50" fill="url(#g9)"/><rect x="472" y="522.17" width="1" height="53.50" fill="url(#g9)"/><rect x="473" y="522.14" width="1" height="53.50" fill="url(#g9)"/><rect x="474" y="522.10" width="1" height="53.50" fill="url(#g9)"/><rect x="475" y="522.07" width="1" height="53.50" fill="url(#g9)"/><rect x="476" y="522.03" width="1" height="53.50" fill="url(#g9)"/><rect x="477" y="521.99" width="1" height="53.50" fill="url(#g9)"/><rect x="478" y="521.96" width="1" height="53.50" fill="url(#g9)"/><rect x="479" y="521.92" width="1" height="53.50" fill="url(#g9)"/><rect x="480" y="521.89" width="1" height="53.50" fill="url(#g9)"/><rect x="481" y="521.85" width="1" height="53.50" fill="url(#g9)"/><rect x="482" y="521.82" width="1" height="53.50" fill="url(#g9)"/><rect x="483" y="521.78" width="1" height="53.50" fill="url(#g9)"/><rect x="484" y="521.75" width="1" height="53.50" fill="url(#g9)"/><rect x="485" y="521.71" width="1" height="53.50" fill="url(#g9)"/><rect x="486" y="521.66" width="1" height="53.53" fill="url(#g9)"/><rect x="487" y="521.57" width="1" height="53.61" fill="url(#g9)"/><rect x="488" y="521.46" width="1" height="53.72" fill="url(#g9)"/><rect x="489" y="521.33" width="1" height="53.85" fill="url(#g9)"/><rect x="490" y="521.20" width="1" height="54.00" fill="url(#g9)"/><rect x="491" y="521.05" width="1" height="54.17" fill="url(#g9)"/><rect x="492" y="520.89" width="1" height="54.35" fill="url(#g9)"/><rect x="493" y="520.72" width="1" height="54.55" fill="url(#g9)"/><rect x="494" y="520.55" width="1" height="54.76" fill="url(#g9)"/><rect x="495" y="520.36" width="1" height="54.99" fill="url(#g9)"/><rect x="496" y="520.17" width="1" height="55.22" fill="url(#g9)"/><rect x="497" y="519.97" width="1" height="55.47" fill="url(#g9)"/><rect x="498" y="519.91" width="1" height="55.42" fill="url(#g9)"/><rect x="499" y="520.17" width="1" height="54.75" fill="url(#g9)"/><rect x="500" y="520.76" width="1" height="53.40" fill="url(#g9)"/><rect x="501" y="521.79" width="1" height="51.20" fill="url(#g9)"/><rect x="502" y="523.44" width="1" height="47.82" fill="url(#g9)"/><rect x="503" y="525.77" width="1" height="43.11" fill="url(#g9)"/><rect x="504" y="529.24" width="1" height="36.10" fill="url(#g9)"/><rect x="505" y="537.79" width="1" height="18.93" fill="url(#g9)" opacity="0.50"/></g>
</svg>
</body></html>
